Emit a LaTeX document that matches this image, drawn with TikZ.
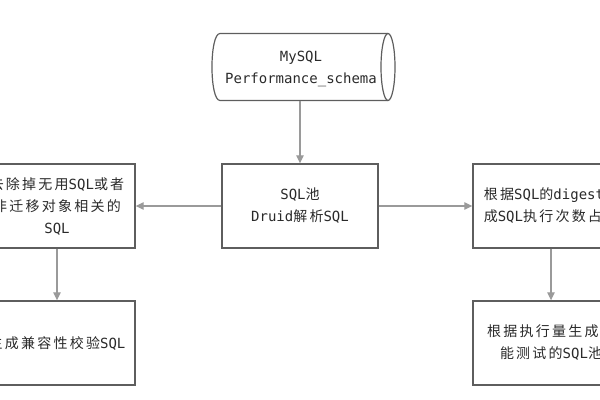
\documentclass[tikz,border=0pt]{standalone}
\usepackage{fontspec}
\setmainfont{DejaVu Sans Mono}
\newfontfamily\cjk[LetterSpace=16]{Noto Sans CJK SC}
\usetikzlibrary{arrows.meta}
\newcommand\cj[1]{{\cjk #1}}
\definecolor{boxline}{HTML}{5E5E5E}
\definecolor{arrowc}{HTML}{9A9A9A}
\definecolor{txt}{HTML}{2A2A2A}
\tikzset{
  stepbox/.style={draw=boxline, line width=1pt, fill=white, rectangle,
    minimum width=117pt, minimum height=63pt, align=center, text=txt, inner sep=2pt},
  dbline/.style={draw=boxline, line width=0.9pt},
  dbtext/.style={align=center, text=txt, inner sep=0pt},
  conn/.style={draw=arrowc, line width=0.9pt, -{Triangle[length=6pt,width=5.5pt]}}
}
\begin{document}
\begin{tikzpicture}[x=0.75pt,y=-0.75pt,font=\fontsize{10.5}{16.5}\selectfont]
\useasboundingbox (0,0) rectangle (600,400);
\clip (0,0) rectangle (600,400);
% cylinder
\draw[dbline] (388,33.5) -- (220,33.5) .. controls (209.3,33.5) and (209.3,100.5) .. (220,100.5) -- (388,100.5);
\draw[dbline] (388,67) ellipse [x radius=7, y radius=33.5];
\node[dbtext] (db) at (301,69) {MySQL\\Performance\_schema};
\coordinate (dbbottom) at (300,100.5);
\node[stepbox] (pool) at (300,206) {SQL\cj{池}\\Druid\cj{解析}SQL};
\node[stepbox] (filter) at (57,206) {\cj{去除掉无用}SQL\cj{或者}\\\cj{非迁移对象相关的}\\SQL};
\node[stepbox] (digest) at (551,206) {\cj{根据}SQL\cj{的}digest\cj{生}\\\cj{成}SQL\cj{执行次数占比}};
\node[stepbox] (compat) at (57,343) {\cj{生成兼容性校验}SQL};
\node[stepbox] (perf) at (551,343) {\cj{根据执行量生成性}\\\cj{能测试的}SQL\cj{池}};
\draw[conn] (dbbottom) -- (pool.north);
\draw[conn] (pool.west) -- (filter.east);
\draw[conn] (pool.east) -- (digest.west);
\draw[conn] (filter.south) -- (compat.north);
\draw[conn] (digest.south) -- (perf.north);
\end{tikzpicture}
\end{document}
